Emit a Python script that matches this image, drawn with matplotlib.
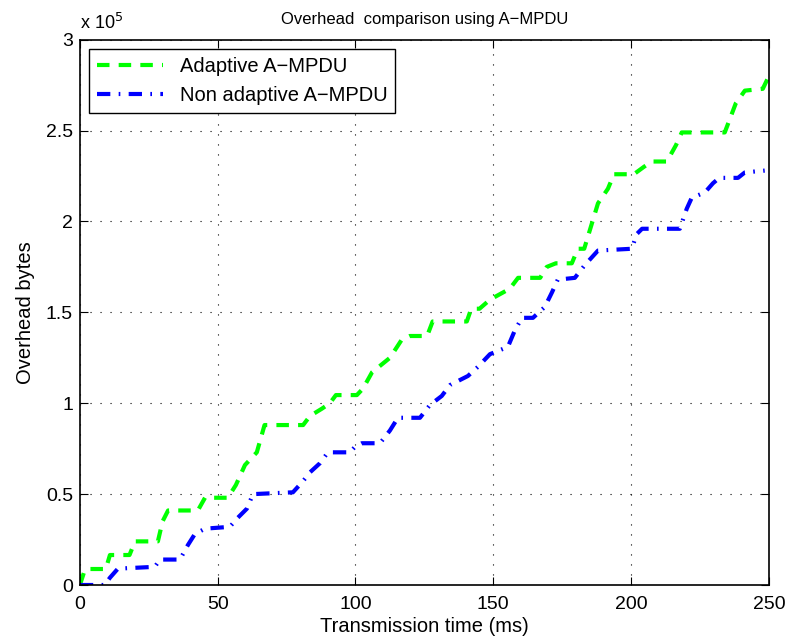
import matplotlib.pyplot as plt
import numpy as np

plt.rcParams['font.family'] = ['Liberation Sans', 'DejaVu Sans']

# transmission time (ms) and overhead bytes (x 1e5)
t_adapt = [0, 1.5, 2.2, 9.4, 10.9, 18, 20, 28.3, 30, 32, 42.8, 45.4, 53.7,
           56.6, 59.9, 64.2, 67, 81, 83.5, 87.8, 90.7, 92.9, 100.5,
           102.7, 106, 112.5, 116.8, 119.7, 126, 128, 140.4, 142, 145,
           148.8, 156, 159, 167, 169.4, 172.7, 178.5, 180.7, 183,
           185, 188, 191.6, 193.8, 201, 204.6, 207.5, 213, 216.3, 218.4,
           234, 236, 238, 241.3, 247.8, 250]
v_adapt = [0, 0.07, 0.088, 0.088, 0.165, 0.165, 0.24, 0.24, 0.35, 0.41, 0.41,
           0.48, 0.48, 0.55, 0.66, 0.73, 0.88, 0.88, 0.93, 0.97, 1.0, 1.045,
           1.045, 1.08, 1.17, 1.25, 1.35, 1.37, 1.37, 1.45, 1.45, 1.52, 1.52,
           1.57, 1.63, 1.69, 1.69, 1.75, 1.77, 1.77, 1.85, 1.85,
           1.95, 2.1, 2.18, 2.26, 2.26, 2.30, 2.33, 2.33, 2.42, 2.49,
           2.49, 2.57, 2.65, 2.72, 2.73, 2.80]

t_nonadapt = [0, 9, 10.9, 13.8, 27.2, 29, 36.3, 39.2, 41.7, 45.4, 54.4,
              57.3, 60.6, 62.8, 77.3, 80.9, 83.5, 87.1, 90, 98, 99.8, 102.3,
              108.9, 112.5, 115.4, 123.4, 127, 131.3, 134.3, 140.8, 144.4,
              148.8, 155.3, 157.8, 160.4, 164.4, 168.7, 171.3, 173.4, 179.6,
              183.2, 188, 200.3, 202, 204, 217.7, 220.2, 222, 226.8, 229.7,
              232, 238.8, 241.3, 248.5]
v_nonadapt = [0, 0, 0.04, 0.09, 0.10, 0.14, 0.14, 0.22, 0.28, 0.31, 0.32,
              0.37, 0.42, 0.50, 0.51, 0.57, 0.62, 0.67, 0.73, 0.73, 0.76, 0.78,
              0.78, 0.85, 0.92, 0.92, 0.99, 1.04, 1.10, 1.15, 1.20,
              1.27, 1.31, 1.40, 1.47, 1.47, 1.53, 1.61, 1.68, 1.69,
              1.76, 1.84, 1.85, 1.93, 1.96, 1.96, 2.07, 2.13, 2.16, 2.21,
              2.24, 2.24, 2.27, 2.28]

x_ticks = [0, 50, 100, 150, 200, 250]
y_ticks = [0, 0.5, 1, 1.5, 2, 2.5, 3]

fig = plt.figure(figsize=(7.91, 6.43), dpi=100)
ax = fig.add_axes([0.101, 0.0902, 0.871, 0.848])

ax.plot(t_adapt, v_adapt, color=(0, 1, 0), linestyle='--', linewidth=3,
        dashes=(3.0, 2.2), label='Adaptive A\u2212MPDU')
ax.plot(t_nonadapt, v_nonadapt, color=(0, 0, 1), linestyle='-.', linewidth=3,
        dashes=(3.2, 2, 0.4, 2), label='Non adaptive A\u2212MPDU')

ax.set_xlim(0, 250)
ax.set_ylim(0, 3)
ax.set_xticks(x_ticks)
ax.set_yticks(y_ticks)
ax.set_yticklabels(['%g' % v for v in y_ticks])
ax.tick_params(direction='in', top=True, right=True, labelsize=14, length=6,
               pad=5)
ax.tick_params(axis='x', pad=8)
ax.grid(True, color='black', linestyle=(0, (1, 8)), linewidth=0.8)
for s in ax.spines.values():
    s.set_linewidth(1.2)

ax.set_xlabel('Transmission time (ms)', fontsize=14.5, labelpad=3)
ax.set_ylabel('Overhead bytes', fontsize=14.5, labelpad=8)
ax.set_title('Overhead  comparison using A\u2212MPDU', fontsize=12, pad=11)
ax.text(0.0, 1.012, 'x 10$^5$', transform=ax.transAxes, fontsize=13,
        ha='left', va='bottom')

leg = ax.legend(loc='upper left', fontsize=14.5, fancybox=False, framealpha=1,
                edgecolor='black', borderaxespad=0.45, handlelength=3.3)
leg.get_frame().set_linewidth(1.0)

fig.savefig('out.png', dpi=100)
